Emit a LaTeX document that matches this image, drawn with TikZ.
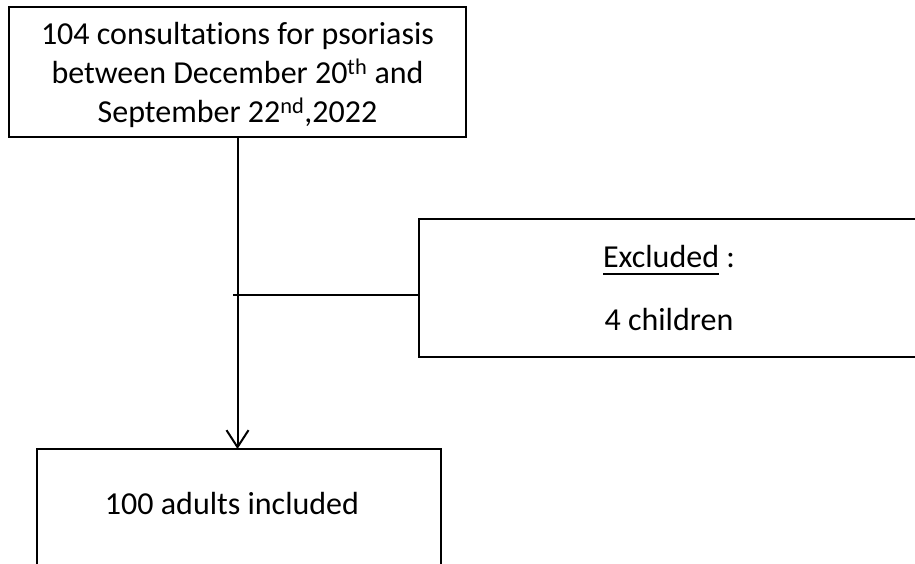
\documentclass[tikz,border=0pt]{standalone}
\usepackage{fontspec}
\setmainfont{Carlito}[Ligatures=CommonOff]
\usetikzlibrary{arrows.meta}

% thick underline as in the flow chart
\newcommand\thickul[1]{\setbox0\hbox{#1}\rlap{\rule[-7pt]{\wd0}{1.8pt}}\box0}

\tikzset{
  flowbox/.style={draw, line width=2pt, inner sep=0pt, outer sep=0pt, align=center},
  flowline/.style={line width=2pt},
}

\begin{document}
\begin{tikzpicture}[x=1pt, y=-1pt, font=\fontsize{32}{39}\selectfont]
  \useasboundingbox (0,0) rectangle (915,564);
  \clip (0,0) rectangle (915,564);
  % 上方：就诊记录
  \node[flowbox, minimum width=457, minimum height=130, text depth=0pt] (consult) at (237.5,72)
    {104 consultations for psoriasis\\
     between December 20\textsuperscript{th} and\\
     September 22\textsuperscript{nd},2022};
  % 右侧：排除
  \node[flowbox, minimum width=500, minimum height=138, anchor=west] (excluded) at (419,288)
    {\thickul{Excluded}~:\\[24pt] 4 children};
  % 下方：纳入（下缘超出画面）
  \node[flowbox, minimum width=404, minimum height=160, anchor=north] (included) at (239,449) {};
  \node[anchor=base] (includedtext) at (232,514) {100 adults included};
  % 连线
  \coordinate (branch) at (233,295);
  \draw[flowline, -{Straight Barb[length=17pt, width=22pt, line width=2pt]}]
    (consult.south) -- (consult.south |- included.north);
  \draw[flowline] (branch) -- (branch -| excluded.west);
\end{tikzpicture}
\end{document}
